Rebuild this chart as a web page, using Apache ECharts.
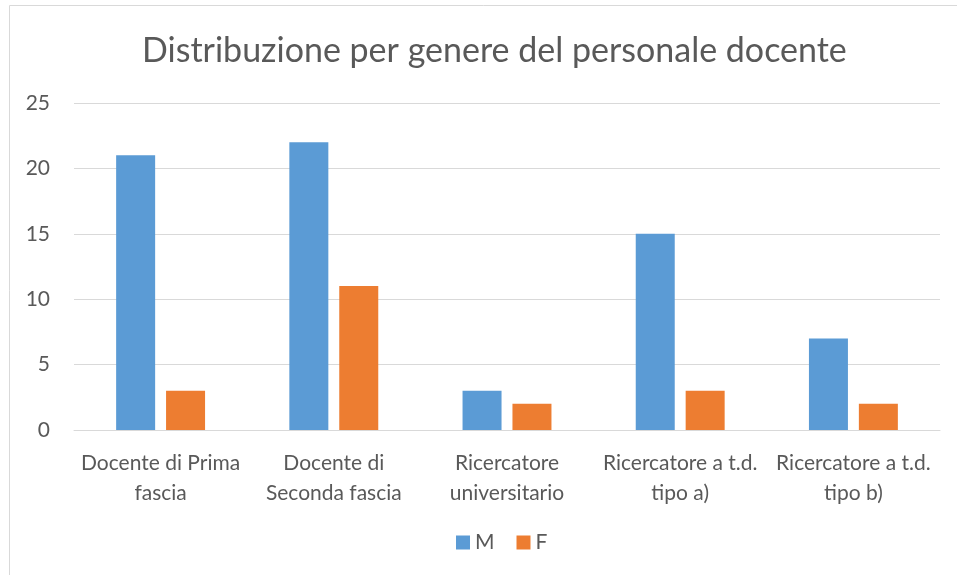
<!DOCTYPE html>
<html lang="it">
<head>
    <meta charset="UTF-8">
    <title>Distribuzione per genere</title>
    <style>
        html, body { margin: 0; padding: 0; background: #fff; }
        #main { width: 957px; height: 575px; }
    </style>
    <script src="https://cdn.jsdelivr.net/npm/echarts@6/dist/echarts.min.js"></script>
</head>
<body>
<div id="main"></div>
<script type="text/javascript">
    var categorie = [
        'Docente di Prima\nfascia',
        'Docente di\nSeconda fascia',
        'Ricercatore\nuniversitario',
        'Ricercatore a t.d.\ntipo a)',
        'Ricercatore a t.d.\ntipo b)'
    ];
    var valoriM = [21, 22, 3, 15, 7];
    var valoriF = [3, 11, 2, 3, 2];

    var font = 'Lato';
    var grigio = '#595959';

    var myChart = echarts.init(document.getElementById('main'));
    var option = {
        animation: false,
        textStyle: { fontFamily: font },
        title: {
            text: 'Distribuzione per genere del personale docente',
            left: 137,
            top: 29,
            textStyle: { fontFamily: font, fontSize: 34, fontWeight: 'normal', color: grigio }
        },
        graphic: [{
            type: 'rect',
            shape: { x: 9.5, y: 5.5, width: 1000, height: 700 },
            style: { fill: 'none', stroke: '#d9d9d9', lineWidth: 1 },
            silent: true
        }],
        legend: {
            data: ['M', 'F'],
            bottom: 17,
            left: 451,
            itemWidth: 14,
            itemHeight: 14,
            itemGap: 22,
            icon: 'rect',
            textStyle: { fontFamily: font, fontSize: 21, color: grigio }
        },
        grid: {
            left: 74,
            right: 17,
            top: 103,
            bottom: 145,
            containLabel: false
        },
        xAxis: {
            type: 'category',
            data: categorie,
            axisLine: { lineStyle: { color: '#d9d9d9' } },
            axisTick: { show: false },
            axisLabel: {
                color: grigio,
                fontSize: 21,
                lineHeight: 30,
                margin: 18,
                interval: 0,
                fontFamily: font
            }
        },
        yAxis: {
            type: 'value',
            min: 0,
            max: 25,
            interval: 5,
            axisLine: { show: false },
            axisTick: { show: false },
            splitLine: { lineStyle: { color: '#d9d9d9' } },
            axisLabel: {
                color: grigio,
                fontSize: 21,
                margin: 24,
                fontFamily: font
            }
        },
        series: [{
            name: 'M',
            type: 'bar',
            data: valoriM,
            barWidth: 39,
            barGap: '28%',
            itemStyle: { color: '#5b9bd5' }
        }, {
            name: 'F',
            type: 'bar',
            data: valoriF,
            barWidth: 39,
            itemStyle: { color: '#ed7d31' }
        }]
    };
    myChart.setOption(option);
</script>
</body>
</html>
